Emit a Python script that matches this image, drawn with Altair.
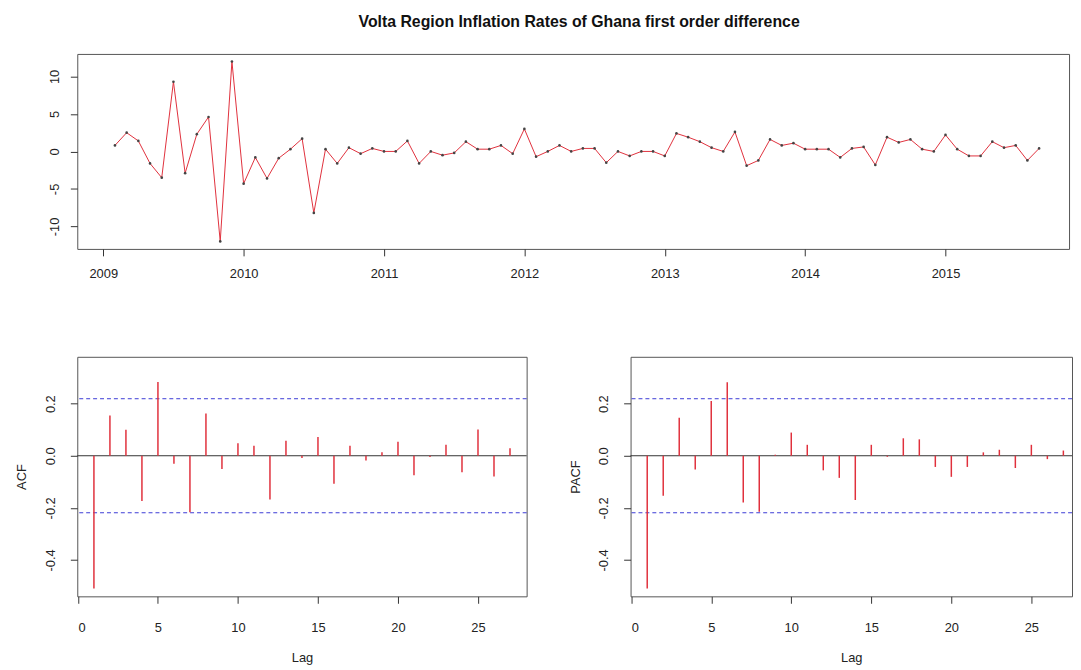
import altair as alt
import pandas as pd

TITLE = "Volta Region Inflation Rates of Ghana first order difference"
FONT = "Liberation Sans"
RED = "#e0303c"
BLUE = "#3b3bd6"

# first-order differenced monthly series, Feb 2009 .. Sep 2015
start_year = 2009
start_month = 2
diff_values = [
    0.8, 2.5, 1.4, -1.6, -3.5, 9.3, -2.9, 2.3, 4.6, -12.0, 12.0,            # 2009
    -4.3, -0.8, -3.6, -0.9, 0.3, 1.7, -8.2, 0.3, -1.6, 0.5, -0.3, 0.4,       # 2010
    0.0, 0.0, 1.4, -1.6, 0.0, -0.5, -0.2, 1.3, 0.3, 0.3, 0.8, -0.3,          # 2011
    3.0, -0.7, 0.0, 0.8, 0.0, 0.4, 0.4, -1.5, 0.0, -0.6, 0.0, 0.0,           # 2012
    -0.6, 2.4, 1.9, 1.3, 0.5, 0.0, 2.6, -1.9, -1.2, 1.6, 0.8, 1.1,           # 2013
    0.3, 0.3, 0.3, -0.8, 0.4, 0.6, -1.8, 1.9, 1.2, 1.6, 0.3, 0.0,            # 2014
    2.2, 0.3, -0.6, -0.6, 1.3, 0.5, 0.8, -1.2, 0.4,                          # 2015
]
year_ticks = [2009, 2010, 2011, 2012, 2013, 2014, 2015]
top_y_ticks = [-10, -5, 0, 5, 10]

lags = list(range(1, 28))
acf_values = [-0.51, 0.155, 0.10, -0.174, 0.283, -0.031, -0.217, 0.162, -0.051,
              0.048, 0.038, -0.168, 0.058, -0.009, 0.072, -0.108, 0.038, -0.018,
              0.013, 0.054, -0.075, -0.005, 0.042, -0.063, 0.101, -0.080, 0.029]
pacf_values = [-0.51, -0.154, 0.146, -0.053, 0.21, 0.282, -0.18, -0.215, 0.004,
               0.089, 0.042, -0.056, -0.085, -0.17, 0.042, -0.004, 0.067, 0.063,
               -0.043, -0.081, -0.043, 0.013, 0.023, -0.047, 0.042, -0.013, 0.02]
ci_bound = 0.219
cf_ticks = [-0.4, -0.2, 0.0, 0.2]
lag_ticks = [0, 5, 10, 15, 20, 25]

times = [start_year + (start_month - 1 + i) / 12 for i in range(len(diff_values))]
ts_df = pd.DataFrame({"time": times, "value": diff_values})

MINUS_FIX_D = "replace(format(datum.value, 'd'), '\u2212', '-')"
MINUS_FIX_1F = "replace(format(datum.value, '.1f'), '\u2212', '-')"

Y_EXT = 63

# ---------------- top panel ----------------
x_top = alt.X(
    "time:Q",
    scale=alt.Scale(domain=[2008.815, 2015.88], nice=False, zero=False),
    axis=alt.Axis(values=year_ticks, format="d", title=None, labelPadding=12,
                  minExtent=33, maxExtent=33),
)
y_top = alt.Y(
    "value:Q",
    scale=alt.Scale(domain=[-13, 13], nice=False),
    axis=alt.Axis(values=top_y_ticks, title=None, labelAngle=270, labelAlign="center",
                  labelBaseline="bottom", labelPadding=9, labelExpr=MINUS_FIX_D,
                  minExtent=Y_EXT, maxExtent=Y_EXT),
)
top_base = alt.Chart(ts_df)
top = alt.layer(
    top_base.mark_line(color=RED, strokeWidth=1).encode(x=x_top, y=y_top),
    top_base.mark_circle(size=7, color="#444", opacity=1).encode(x=x_top, y=y_top),
).properties(
    width=1002, height=197,
    title=alt.TitleParams(TITLE, anchor="middle", frame="group", fontSize=16,
                          font=FONT, fontWeight="bold", color="#111", offset=24, dx=6),
)


def cf_panel(values, name, width, x_max, title_x):
    bars_df = pd.DataFrame({"lag": lags, "v": values})
    zero_df = pd.DataFrame({"v": [0.0]})
    ci_df = pd.DataFrame({"v": [ci_bound, -ci_bound]})
    y_enc = alt.Y(
        "v:Q",
        scale=alt.Scale(domain=[-0.54, 0.38], nice=False, zero=False),
        axis=alt.Axis(values=cf_ticks, title=name, labelAngle=270, labelAlign="center",
                      labelBaseline="bottom", labelPadding=13, labelExpr=MINUS_FIX_1F,
                      titleAngle=270, titleX=title_x, titleY=121, titleAlign="center",
                      titleBaseline="middle", minExtent=Y_EXT, maxExtent=Y_EXT),
    )
    x_enc = alt.X(
        "lag:Q",
        scale=alt.Scale(domain=[-0.04, x_max], nice=False, zero=False),
        axis=alt.Axis(values=lag_ticks, format="d", title="Lag", labelPadding=19,
                      titleY=62, titleX=width / 2, titleAlign="center",
                      titleBaseline="middle"),
    )
    zero = alt.Chart(zero_df).mark_rule(color="#333", strokeWidth=1).encode(y=y_enc)
    ci = alt.Chart(ci_df).mark_rule(color=BLUE, strokeWidth=1, strokeDash=[4, 3]).encode(y=y_enc)
    bars = alt.Chart(bars_df).mark_rule(color=RED, strokeWidth=1.5).encode(
        x=x_enc, y=y_enc, y2=alt.datum(0)
    )
    return alt.layer(zero, ci, bars).properties(width=width, height=242)


acf_panel = cf_panel(acf_values, "ACF", 454, 28.04, -56)
pacf_panel = cf_panel(pacf_values, "PACF", 446, 27.54, -56)

bottom = alt.hconcat(acf_panel, pacf_panel, spacing=40)

chart = alt.vconcat(top, bottom, spacing=74).properties(
    padding={"left": 6, "top": 2, "right": 0, "bottom": 0},
    background="white",
).configure_view(
    stroke="#555", strokeWidth=1
).configure_axis(
    labelFont=FONT, titleFont=FONT, labelFontSize=13, titleFontSize=13,
    titleFontWeight="normal", labelColor="#222", titleColor="#222",
    tickColor="#333", tickSize=7, domain=False, grid=False,
)

chart.save("out.html", embed_options={"renderer": "svg", "actions": False})
